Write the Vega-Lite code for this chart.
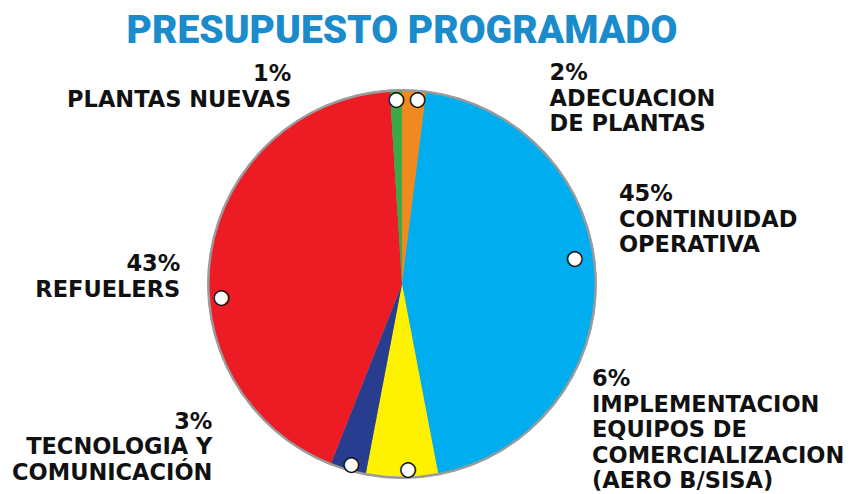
{
  "$schema": "https://vega.github.io/schema/vega-lite/v6.json",
  "width": 804,
  "height": 420,
  "autosize": {"type": "none"},
  "padding": {"left": 0, "top": 74, "right": 48, "bottom": 0},
  "background": "white",
  "title": {"text": "PRESUPUESTO PROGRAMADO", "anchor": "middle", "frame": "group", "offset": 0, "dy": 84, "baseline": "alphabetic", "font": "Roboto", "fontSize": 39, "fontWeight": 900, "color": "#1b8ccb"},
  "config": {"view": {"stroke": null}},
  "data": {"values": [
    {"k": 1, "cat": "ADECUACION DE PLANTAS", "pct": 2, "label": ["2%", "ADECUACION", "DE PLANTAS"]},
    {"k": 2, "cat": "CONTINUIDAD OPERATIVA", "pct": 45, "label": ["45%", "CONTINUIDAD", "OPERATIVA"]},
    {"k": 3, "cat": "IMPLEMENTACION EQUIPOS DE COMERCIALIZACION (AERO B/SISA)", "pct": 6, "label": ["6%", "IMPLEMENTACION", "EQUIPOS DE", "COMERCIALIZACION", "(AERO B/SISA)"]},
    {"k": 4, "cat": "TECNOLOGIA Y COMUNICACIÓN", "pct": 3, "label": ["3%", "TECNOLOGIA Y", "COMUNICACIÓN"]},
    {"k": 5, "cat": "REFUELERS", "pct": 43, "label": ["43%", "REFUELERS"]},
    {"k": 6, "cat": "PLANTAS NUEVAS", "pct": 1, "label": ["1%", "PLANTAS NUEVAS"]}
  ]},
  "encoding": {
    "theta": {"field": "pct", "type": "quantitative", "stack": true},
    "order": {"field": "k", "type": "quantitative"},
    "detail": {"field": "cat", "type": "nominal"}
  },
  "layer": [
    {"mark": {"type": "arc", "radius": 194.5, "fill": "#9a9a9a", "stroke": "#9a9a9a", "strokeWidth": 1}},
    {"mark": {"type": "arc", "radius": 192.5},
     "encoding": {"color": {"field": "cat", "type": "nominal", "legend": null,
       "scale": {"domain": ["ADECUACION DE PLANTAS", "CONTINUIDAD OPERATIVA", "IMPLEMENTACION EQUIPOS DE COMERCIALIZACION (AERO B/SISA)", "TECNOLOGIA Y COMUNICACIÓN", "REFUELERS", "PLANTAS NUEVAS"],
                 "range": ["#f08a1e", "#00aeef", "#fff200", "#283d8f", "#ed1c24", "#3aaa48"]}}}},
    {"mark": {"type": "text", "radius": 185, "align": "left", "baseline": "top", "dx": 136, "dy": -37, "font": "DejaVu Sans", "fontSize": 22.5, "fontWeight": "bold", "lineHeight": 25.5, "color": "#111111"},
     "encoding": {"text": {"condition": {"test": "datum.k === 1", "field": "label"}, "value": ""}}},
    {"mark": {"type": "text", "radius": 185, "align": "left", "baseline": "top", "dx": 32, "dy": -95, "font": "DejaVu Sans", "fontSize": 22.5, "fontWeight": "bold", "lineHeight": 25.5, "color": "#111111"},
     "encoding": {"text": {"condition": {"test": "datum.k === 2", "field": "label"}, "value": ""}}},
    {"mark": {"type": "text", "radius": 185, "align": "left", "baseline": "top", "dx": 190, "dy": -101, "font": "DejaVu Sans", "fontSize": 22.5, "fontWeight": "bold", "lineHeight": 25.5, "color": "#111111"},
     "encoding": {"text": {"condition": {"test": "datum.k === 3", "field": "label"}, "value": ""}}},
    {"mark": {"type": "text", "radius": 185, "align": "right", "baseline": "top", "dx": -138, "dy": -51, "font": "DejaVu Sans", "fontSize": 22.5, "fontWeight": "bold", "lineHeight": 25.5, "color": "#111111"},
     "encoding": {"text": {"condition": {"test": "datum.k === 4", "field": "label"}, "value": ""}}},
    {"mark": {"type": "text", "radius": 185, "align": "right", "baseline": "top", "dx": -39, "dy": -2, "font": "DejaVu Sans", "fontSize": 22.5, "fontWeight": "bold", "lineHeight": 25.5, "color": "#111111"},
     "encoding": {"text": {"condition": {"test": "datum.k === 5", "field": "label"}, "value": ""}}},
    {"mark": {"type": "text", "radius": 185, "align": "right", "baseline": "top", "dx": -105, "dy": -36, "font": "DejaVu Sans", "fontSize": 22.5, "fontWeight": "bold", "lineHeight": 25.5, "color": "#111111"},
     "encoding": {"text": {"condition": {"test": "datum.k === 6", "field": "label"}, "value": ""}}},
    {"mark": {"type": "text", "radius": 185, "text": "●", "font": "DejaVu Sans", "fontSize": 19, "fill": "white", "stroke": "#111111", "strokeWidth": 1.5, "dx": 4, "dy": 0},
     "encoding": {"opacity": {"condition": {"test": "datum.k === 1", "value": 1}, "value": 0}}},
    {"mark": {"type": "text", "radius": 185, "text": "●", "font": "DejaVu Sans", "fontSize": 19, "fill": "white", "stroke": "#111111", "strokeWidth": 1.5, "dx": -12, "dy": -20},
     "encoding": {"opacity": {"condition": {"test": "datum.k === 2", "value": 1}, "value": 0}}},
    {"mark": {"type": "text", "radius": 185, "text": "●", "font": "DejaVu Sans", "fontSize": 19, "fill": "white", "stroke": "#111111", "strokeWidth": 1.5, "dx": 6, "dy": 0},
     "encoding": {"opacity": {"condition": {"test": "datum.k === 3", "value": 1}, "value": 0}}},
    {"mark": {"type": "text", "radius": 185, "text": "●", "font": "DejaVu Sans", "fontSize": 19, "fill": "white", "stroke": "#111111", "strokeWidth": 1.5, "dx": 1, "dy": 2},
     "encoding": {"opacity": {"condition": {"test": "datum.k === 4", "value": 1}, "value": 0}}},
    {"mark": {"type": "text", "radius": 185, "text": "●", "font": "DejaVu Sans", "fontSize": 19, "fill": "white", "stroke": "#111111", "strokeWidth": 1.5, "dx": 2, "dy": 42},
     "encoding": {"opacity": {"condition": {"test": "datum.k === 5", "value": 1}, "value": 0}}},
    {"mark": {"type": "text", "radius": 185, "text": "●", "font": "DejaVu Sans", "fontSize": 19, "fill": "white", "stroke": "#111111", "strokeWidth": 1.5, "dx": 0, "dy": 0},
     "encoding": {"opacity": {"condition": {"test": "datum.k === 6", "value": 1}, "value": 0}}}
  ]
}
